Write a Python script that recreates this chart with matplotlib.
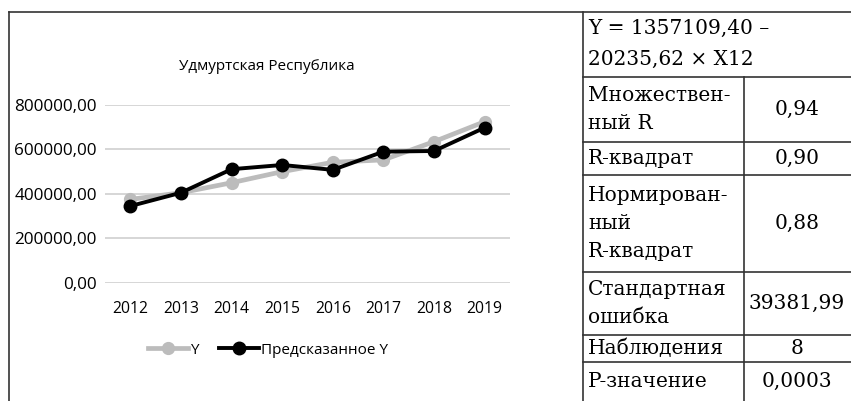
import numpy as np
import matplotlib.pyplot as plt
from matplotlib.lines import Line2D

plt.rcParams['font.family'] = ['Open Sans', 'DejaVu Sans']

years = ['2012', '2013', '2014', '2015', '2016', '2017', '2018', '2019']
y_fact = [375000, 405000, 450000, 500000, 542000, 553000, 635000, 725000]
y_pred = [345000, 405000, 511000, 530000, 508000, 590000, 593000, 698000]
y_ticks = [0, 200000, 400000, 600000, 800000]

title = 'Удмуртская Республика'
eq_lines = ['Y = 1357109,40 –', '20235,62 × X12']
stat_names = ['Множествен-\nный R', 'R-квадрат', 'Нормирован-\nный\nR-квадрат',
              'Стандартная\nошибка', 'Наблюдения', 'P-значение']
stat_vals = ['0,94', '0,90', '0,88', '39381,99', '8', '0,0003']

W, H = 851, 401
fig = plt.figure(figsize=(W / 100, H / 100), dpi=100)

def fx(px): return px / W
def fy(py): return 1 - py / H

# chart area
ax = fig.add_axes([fx(105), fy(282.7), fx(510) - fx(105), fy(105) - fy(282.7)])
x = np.arange(len(years))
ax.plot(x, y_fact, color='#bcbcbc', lw=3.4, marker='o', ms=8.5, zorder=3)
ax.plot(x, y_pred, color='black', lw=2.8, marker='o', ms=9, zorder=4)
ax.set_xlim(-0.5, len(years) - 0.5)
ax.set_ylim(0, 800000)
ax.set_yticks(y_ticks)
ax.set_yticklabels(['%d,00' % v for v in y_ticks], fontsize=12.3)
ax.set_xticks(x)
ax.set_xticklabels(years, fontsize=11.3)
ax.tick_params(length=0)
ax.tick_params(axis='x', pad=13)
ax.tick_params(axis='y', pad=6)
ax.yaxis.grid(True, color='#d0d0d0', lw=1.2)
ax.set_axisbelow(True)
for s in ax.spines.values():
    s.set_visible(False)
for ln in ax.lines:
    ln.set_clip_on(False)

fig.text(fx(267), fy(67), title, ha='center', va='center', fontsize=11)

handles = [Line2D([], [], color='#bcbcbc', lw=3.4, marker='o', ms=8.5),
           Line2D([], [], color='black', lw=2.8, marker='o', ms=9)]
fig.legend(handles, ['Y', 'Предсказанное Y'], loc='center', bbox_to_anchor=(fx(268), fy(350)),
           ncol=2, frameon=False, fontsize=11, handlelength=2.6, handletextpad=0.1,
           columnspacing=1.4)

# frame lines
def hline(y, x0, x1):
    fig.add_artist(Line2D([fx(x0), fx(x1)], [fy(y), fy(y)], color='#333333', lw=1.2))

def vline(xp, y0, y1):
    fig.add_artist(Line2D([fx(xp), fx(xp)], [fy(y0), fy(y1)], color='#333333', lw=1.2))

hline(12, 9, W)
vline(9, 12, H)
vline(583, 12, H)

row_edges = [12, 77, 142, 175, 272, 335, 362, 401]
for y in row_edges[1:-1]:
    hline(y, 583, W)
vline(744, 77, H)

serif = ['DejaVu Serif']
fs = 14.5
fig.text(fx(588), fy(28), eq_lines[0], ha='left', va='center', fontsize=fs, family=serif)
fig.text(fx(588), fy(59), eq_lines[1], ha='left', va='center', fontsize=fs, family=serif)
for i, (name, val) in enumerate(zip(stat_names, stat_vals)):
    top, bot = row_edges[i + 1], row_edges[i + 2]
    yc = (top + bot) / 2
    fig.text(fx(588), fy(yc), name, ha='left', va='center', fontsize=fs, family=serif,
             linespacing=1.62)
    fig.text(fx(797), fy(yc), val, ha='center', va='center', fontsize=fs, family=serif)

fig.savefig('out.png', dpi=100)
